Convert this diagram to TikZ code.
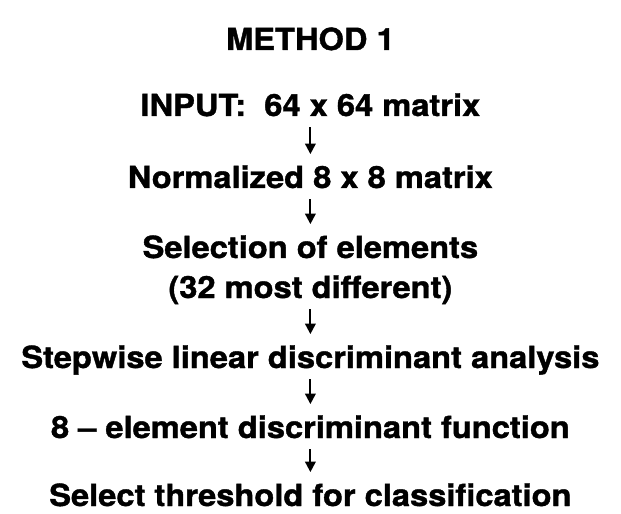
\documentclass[tikz,border=0pt]{standalone}
\usepackage{fontspec}
\usepackage{tikz}
\usetikzlibrary{arrows.meta}
\newfontfamily\flowfont{TeX Gyre Heros}[FakeStretch=1.07,FakeBold=1.2]

\begin{document}
\begin{tikzpicture}[
                        every node/.style={
                                font=\flowfont\bfseries\fontsize{21.7}{26}\selectfont,
                                anchor=base,
                                inner sep=0pt,
                                text height=0.55cm,
                                text depth=0.12cm,
                            },
                        flowarrow/.style={
                                line width=1.5pt,
                                -{Triangle[width=7.5pt,length=7.5pt]},
                                shorten <=0.15cm,
                                shorten >=0.29cm,
                            },
                    ]

                    \useasboundingbox (0,0) rectangle (15.525,-12.85);

                    \node (title) at (7.76,-1.25) {METHOD 1};

                    \node (input) at (7.76,-2.9) {INPUT:\ \ 64 x 64 matrix};
                    \node (norm) at (7.76,-4.7) {Normalized 8 x 8 matrix};
                    \node (sel) at (7.76,-6.45) {Selection of elements};
                    \node (selnote) at (7.76,-7.45) {(32 most different)};
                    \node (step) at (7.76,-9.2) {Stepwise linear discriminant analysis};
                    \node (func) at (7.76,-10.95) {8 – element discriminant function};
                    \node (thresh) at (7.76,-12.65) {Select threshold for classification};

                    \draw[flowarrow] (input.south) -- (norm.north);
                    \draw[flowarrow] (norm.south) -- (sel.north);
                    \draw[flowarrow] (selnote.south) -- (step.north);
                    \draw[flowarrow] (step.south) -- (func.north);
                    \draw[flowarrow] (func.south) -- (thresh.north);
                \end{tikzpicture}
\end{document}
